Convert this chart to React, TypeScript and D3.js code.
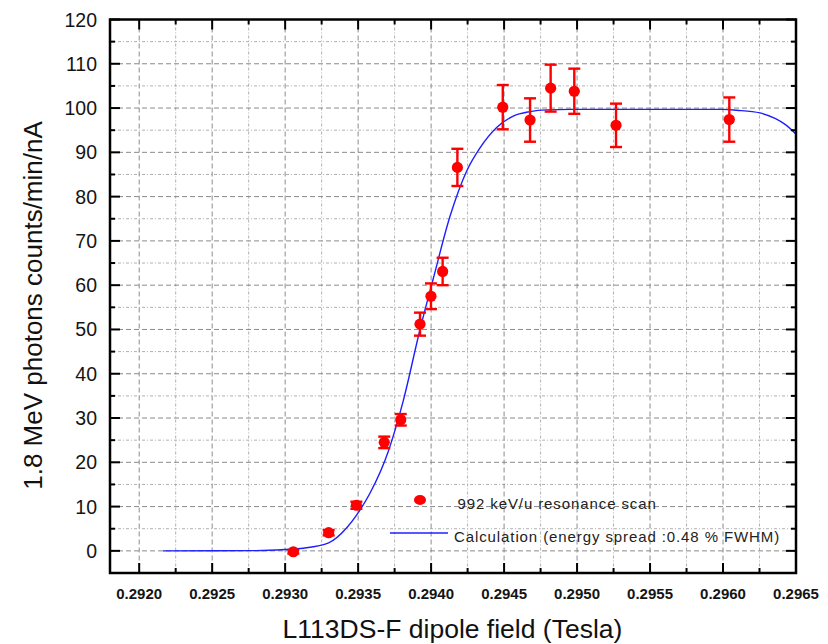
import React from "react";
import * as d3 from "d3";

// Measured data: 992 keV/u resonance scan
const fieldValues = [0.293056, 0.293298, 0.293488, 0.293679, 0.293792, 0.293924, 0.293999, 0.294079, 0.29418, 0.294491, 0.294678, 0.294819, 0.294981, 0.295267, 0.296043];
const countValues = [-0.2, 4.1, 10.3, 24.5, 29.6, 51.2, 57.5, 63.1, 86.6, 100.2, 97.3, 104.5, 103.8, 96.1, 97.4];
const errorValues = [0.4, 0.6, 0.8, 1.3, 1.3, 2.6, 2.9, 3.1, 4.2, 5.0, 4.9, 5.3, 5.1, 4.9, 5.0];

// Calculation curve (energy spread 0.48 % FWHM)
const calcField = [0.292163, 0.2928, 0.293, 0.293124, 0.293298, 0.293422, 0.293494, 0.293581, 0.293707, 0.293764, 0.29381, 0.293924, 0.294015, 0.294129, 0.294244, 0.294335, 0.294449, 0.294563, 0.294678, 0.294792, 0.294952, 0.2955, 0.296, 0.296094, 0.296253, 0.29636, 0.29643, 0.2965];
const calcCounts = [0, 0.05, 0.3, 0.6, 1.8, 5.2, 8.3, 13.0, 22.5, 28.5, 34.0, 50.0, 61.5, 75.5, 85.8, 91.0, 95.6, 98.2, 99.2, 99.6, 99.7, 99.7, 99.7, 99.5, 98.9, 97.6, 96.2, 94.1];

const xMajorTicks = [0.292, 0.2925, 0.293, 0.2935, 0.294, 0.2945, 0.295, 0.2955, 0.296, 0.2965];
const xTickLabels = ["0.2920", "0.2925", "0.2930", "0.2935", "0.2940", "0.2945", "0.2950", "0.2955", "0.2960", "0.2965"];
const xMinorTicks = [0.29225, 0.29275, 0.29325, 0.29375, 0.29425, 0.29475, 0.29525, 0.29575, 0.29625];
const yMajorTicks = [0, 10, 20, 30, 40, 50, 60, 70, 80, 90, 100, 110, 120];
const yMinorTicks = [5, 15, 25, 35, 45, 55, 65, 75, 85, 95, 105, 115];

const legendScan = "992 keV/u resonance scan";
const legendCalc = "Calculation (energy spread :0.48 % FWHM)";
const xTitle = "L113DS-F dipole field (Tesla)";
const yTitle = "1.8 MeV photons counts/min/nA";

const W = 828;
const H = 644;
const L = 110;
const R = 796;
const T = 19.5;
const B = 573;

export default function App() {
  const x = d3.scaleLinear().domain([0.2918, 0.2965]).range([L, R]);
  const y = d3.scaleLinear().domain([-5, 120]).range([B, T]);

  const line = d3
    .line<number>()
    .x((_, i) => x(calcField[i]))
    .y((d) => y(d))
    .curve(d3.curveMonotoneX);

  const font = "Arial, 'Liberation Sans', Helvetica, sans-serif";
  const majorGrid = { stroke: "#8a8a8a", strokeWidth: 1, strokeDasharray: "5,3" };
  const minorGrid = { stroke: "#b0b0b0", strokeWidth: 1, strokeDasharray: "3,2,1,2" };

  return (
    <svg width={W} height={H} style={{ position: "absolute", left: 0, top: 0, background: "#fff" }} fontFamily={font}>
      <rect x={0} y={0} width={W} height={H} fill="#fff" />
      {/* grid */}
      <g>
        {xMinorTicks.map((v) => (
          <line key={"xm" + v} x1={x(v)} x2={x(v)} y1={T} y2={B} {...minorGrid} />
        ))}
        {yMinorTicks.map((v) => (
          <line key={"ym" + v} x1={L} x2={R} y1={y(v)} y2={y(v)} {...minorGrid} />
        ))}
        {xMajorTicks.map((v) => (
          <line key={"xg" + v} x1={x(v)} x2={x(v)} y1={T} y2={B} {...majorGrid} />
        ))}
        {yMajorTicks.map((v) => (
          <line key={"yg" + v} x1={L} x2={R} y1={y(v)} y2={y(v)} {...majorGrid} />
        ))}
      </g>

      {/* calculation curve */}
      <path d={line(calcCounts) || ""} fill="none" stroke="#1f1fff" strokeWidth={1.4} />

      {/* error bars and points */}
      <g stroke="#ff0000" strokeWidth={2.4} fill="#ff0000">
        {fieldValues.map((fv, i) => {
          const cx = x(fv);
          const top = y(countValues[i] + errorValues[i]);
          const bot = y(countValues[i] - errorValues[i]);
          return (
            <g key={"p" + i}>
              <line x1={cx} x2={cx} y1={top} y2={bot} />
              <line x1={cx - 6} x2={cx + 6} y1={top} y2={top} />
              <line x1={cx - 6} x2={cx + 6} y1={bot} y2={bot} />
              <circle cx={cx} cy={y(countValues[i])} r={5.6} stroke="none" />
            </g>
          );
        })}
      </g>

      {/* frame */}
      <rect x={L} y={T} width={R - L} height={B - T} fill="none" stroke="#000" strokeWidth={2.5} />

      {/* ticks */}
      <g stroke="#000" strokeWidth={2}>
        {xMajorTicks.map((v) => (
          <g key={"xt" + v}>
            <line x1={x(v)} x2={x(v)} y1={B} y2={B - 10} />
            <line x1={x(v)} x2={x(v)} y1={T} y2={T + 10} />
          </g>
        ))}
        {xMinorTicks.map((v) => (
          <g key={"xmt" + v}>
            <line x1={x(v)} x2={x(v)} y1={B} y2={B - 5} />
            <line x1={x(v)} x2={x(v)} y1={T} y2={T + 5} />
          </g>
        ))}
        {yMajorTicks.map((v) => (
          <g key={"yt" + v}>
            <line x1={L} x2={L + 10} y1={y(v)} y2={y(v)} />
            <line x1={R} x2={R - 10} y1={y(v)} y2={y(v)} />
          </g>
        ))}
        {yMinorTicks.map((v) => (
          <g key={"ymt" + v}>
            <line x1={L} x2={L + 5} y1={y(v)} y2={y(v)} />
            <line x1={R} x2={R - 5} y1={y(v)} y2={y(v)} />
          </g>
        ))}
      </g>

      {/* tick labels */}
      <g fill="#141414">
        {xMajorTicks.map((v, i) => (
          <text key={"xl" + v} x={x(v)} y={599} textAnchor="middle" fontSize={15} fontWeight="bold">
            {xTickLabels[i]}
          </text>
        ))}
        {yMajorTicks.map((v) => (
          <text key={"yl" + v} x={97} y={y(v) + 7} textAnchor="end" fontSize={19.5}>
            {v}
          </text>
        ))}
      </g>

      {/* legend */}
      <ellipse cx={420} cy={500} rx={6} ry={5} fill="#ff0000" />
      <text x={457.5} y={509} fontSize={15} letterSpacing={0.9} fill="#222">
        {legendScan}
      </text>
      <line x1={390} x2={448} y1={533} y2={533} stroke="#1f1fff" strokeWidth={1.4} />
      <text x={454} y={542} fontSize={15} letterSpacing={0.9} fill="#222">
        {legendCalc}
      </text>

      {/* axis titles */}
      <text x={452.5} y={638} textAnchor="middle" fontSize={26.5} fill="#111">
        {xTitle}
      </text>
      <text transform="translate(42,305.5) rotate(-90)" textAnchor="middle" fontSize={26} fill="#111">
        {yTitle}
      </text>
    </svg>
  );
}
